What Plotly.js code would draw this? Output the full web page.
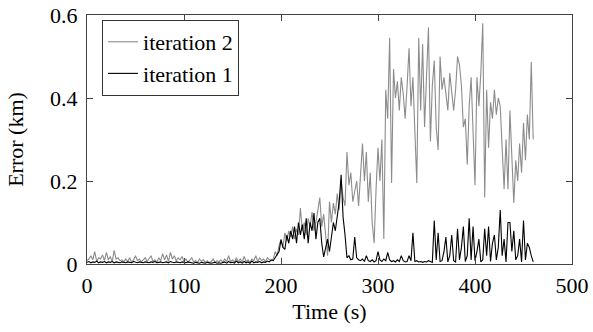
<!DOCTYPE html>
<html>
<head>
<meta charset="utf-8">
<script src="https://cdn.plot.ly/plotly-3.0.1.min.js"></script>
<style>html,body{margin:0;padding:0;background:#fff;}#chart{width:593px;height:332px;}</style>
</head>
<body>
<div id="chart"></div>
<script>
// sampling step of the recorded time series (s)
const sampleStep = 2;

// iteration 2 error (km), one value every 2 s from t = 0 to 460
const iteration2 = [
  0.008,0.012,0.02,0.01,0.03,0.006,0.015,0.012,0.022,0.008,
  0.028,0.01,0.018,0.005,0.033,0.012,0.015,0.008,0.01,0.005,
  0.012,0.006,0.015,0.004,0.01,0.02,0.008,0.012,0.005,0.01,
  0.015,0.006,0.012,0.02,0.006,0.01,0.004,0.015,0.008,0.025,
  0.01,0.022,0.006,0.028,0.012,0.02,0.008,0.015,0.01,0.018,
  0.006,0.012,0.004,0.01,0.015,0.005,0.008,0.004,0.012,0.006,
  0.01,0.004,0.008,0.003,0.006,0.012,0.004,0.008,0.005,0.01,
  0.004,0.012,0.006,0.02,0.005,0.01,0.004,0.015,0.006,0.012,
  0.005,0.018,0.006,0.01,0.004,0.012,0.008,0.02,0.006,0.015,
  0.008,0.012,0.006,0.015,0.01,0.008,0.012,0.03,0.02,0.045,
  0.06,0.04,0.075,0.055,0.08,0.065,0.09,0.06,0.085,0.07,
  0.135,0.08,0.1,0.07,0.11,0.09,0.125,0.08,0.1,0.13,
  0.16,0.09,0.12,0.07,0.02,0.15,0.1,0.147,0.12,0.17,
  0.13,0.2,0.16,0.14,0.27,0.19,0.22,0.15,0.18,0.2,
  0.14,0.22,0.29,0.2,0.27,0.15,0.22,0.1,0.05,0.18,
  0.28,0.2,0.3,0.06,0.42,0.35,0.545,0.195,0.47,0.4,
  0.44,0.37,0.45,0.41,0.35,0.43,0.52,0.38,0.45,0.32,
  0.195,0.545,0.37,0.53,0.33,0.45,0.57,0.295,0.43,0.49,
  0.33,0.275,0.5,0.42,0.45,0.41,0.37,0.46,0.42,0.37,
  0.42,0.5,0.48,0.43,0.33,0.35,0.24,0.38,0.45,0.3,
  0.19,0.45,0.38,0.46,0.58,0.16,0.42,0.28,0.39,0.35,
  0.42,0.36,0.4,0.38,0.29,0.18,0.3,0.18,0.37,0.25,
  0.147,0.25,0.2,0.29,0.22,0.34,0.25,0.36,0.3,0.487,
  0.30
];

// iteration 1 error (km), same sampling
const iteration1 = [
  0.004,0.006,0.003,0.005,0.004,0.007,0.003,0.005,0.004,0.006,
  0.003,0.005,0.004,0.006,0.003,0.005,0.004,0.003,0.005,0.004,
  0.003,0.005,0.004,0.003,0.006,0.004,0.003,0.005,0.004,0.003,
  0.005,0.004,0.003,0.005,0.004,0.006,0.003,0.004,0.005,0.003,
  0.004,0.005,0.003,0.006,0.004,0.003,0.005,0.004,0.003,0.005,
  0.004,0.003,0.005,0.004,0.003,0.002,0.004,0.003,0.002,0.004,
  0.003,0.002,0.004,0.003,0.002,0.003,0.004,0.002,0.003,0.002,
  0.003,0.005,0.002,0.006,0.003,0.004,0.002,0.007,0.003,0.005,
  0.002,0.006,0.003,0.005,0.002,0.007,0.003,0.005,0.004,0.006,
  0.003,0.005,0.004,0.007,0.005,0.01,0.008,0.015,0.02,0.03,
  0.058,0.04,0.035,0.07,0.05,0.08,0.06,0.09,0.05,0.1,
  0.07,0.095,0.06,0.11,0.05,0.1,0.08,0.123,0.06,0.1,
  0.11,0.05,0.017,0.04,0.06,0.03,0.06,0.1,0.08,0.12,
  0.15,0.215,0.113,0.07,0.015,0.02,0.01,0.012,0.065,0.015,
  0.01,0.008,0.012,0.006,0.02,0.008,0.006,0.01,0.005,0.008,
  0.03,0.01,0.006,0.012,0.008,0.028,0.01,0.006,0.008,0.005,
  0.01,0.006,0.02,0.008,0.005,0.006,0.02,0.008,0.075,0.006,
  0.008,0.005,0.006,0.004,0.006,0.005,0.008,0.006,0.004,0.105,
  0.01,0.075,0.006,0.008,0.03,0.065,0.005,0.02,0.07,0.008,
  0.005,0.085,0.01,0.04,0.09,0.006,0.02,0.11,0.01,0.09,
  0.008,0.03,0.06,0.005,0.01,0.085,0.02,0.09,0.006,0.05,
  0.07,0.01,0.04,0.13,0.02,0.06,0.005,0.1,0.1,0.03,
  0.08,0.01,0.02,0.06,0.005,0.105,0.01,0.05,0.04,0.02,
  0.005
];

const seriesNames = ["iteration 2", "iteration 1"];
const xTickVals = [0, 100, 200, 300, 400, 500];
const xTickText = ["0", "100", "200", "300", "400", "500"];
const yTickVals = [0, 0.2, 0.4, 0.6];
const yTickText = ["0", "0.2", "0.4", "0.6"];

const time = iteration2.map((_, i) => i * sampleStep);

const FONT = "Liberation Serif";
const FS = 22;

const traces = [
  {x: time, y: iteration2, name: seriesNames[0], type: "scatter", mode: "lines",
   line: {color: "#8c8c8c", width: 1.1}},
  {x: time, y: iteration1, name: seriesNames[1], type: "scatter", mode: "lines",
   line: {color: "#000000", width: 1.1}}
];

const axisCommon = {
  showline: true, linecolor: "#444", linewidth: 1, mirror: "ticks",
  ticks: "inside", ticklen: 6, tickcolor: "#444", tickwidth: 1,
  showgrid: false, zeroline: false,
  tickfont: {family: FONT, size: FS, color: "#000"}
};

const layout = {
  width: 593, height: 332,
  margin: {l: 87, r: 21, t: 15, b: 68},
  paper_bgcolor: "#fff", plot_bgcolor: "#fff",
  font: {family: FONT, size: FS, color: "#000"},
  showlegend: true,
  legend: {
    x: 0.031, y: 0.98, xanchor: "left", yanchor: "top",
    bordercolor: "#333", borderwidth: 1, bgcolor: "#fff",
    font: {family: FONT, size: FS, color: "#000"},
    tracegroupgap: 0
  },
  xaxis: Object.assign({}, axisCommon, {
    range: [0, 500], tickvals: xTickVals, ticktext: xTickText,
    ticklabelstandoff: 2,
    title: {text: "Time (s)", font: {family: FONT, size: FS, color: "#000"}, standoff: 6}
  }),
  yaxis: Object.assign({}, axisCommon, {
    range: [0, 0.6], tickvals: yTickVals, ticktext: yTickText,
    ticklabelstandoff: 4,
    title: {text: "Error (km)", font: {family: FONT, size: FS, color: "#000"}, standoff: 20}
  })
};

Plotly.newPlot("chart", traces, layout, {staticPlot: true, displayModeBar: false});
</script>
</body>
</html>
